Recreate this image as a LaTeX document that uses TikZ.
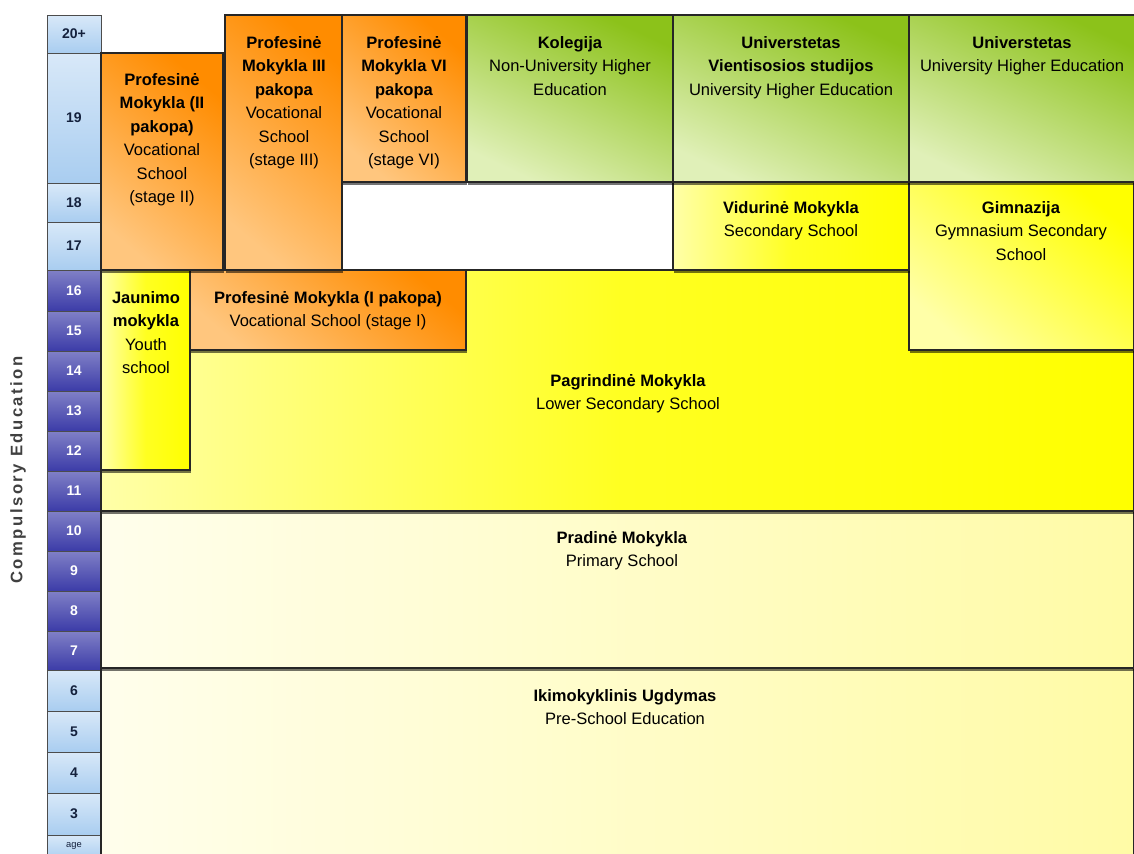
\documentclass[tikz,border=0pt]{standalone}
\usepackage{fontspec}
\setmainfont{Liberation Sans}
\usetikzlibrary{shadows}
\definecolor{orgdark}{HTML}{FF8C00}
\definecolor{orglight}{HTML}{FFC67E}
\definecolor{grndark}{HTML}{8CC21A}
\definecolor{grnlight}{HTML}{E0F0B8}
\definecolor{ylwdark}{HTML}{FFFF00}
\definecolor{ylwlight}{HTML}{FFFFA8}
\definecolor{palelight}{HTML}{FFFEEC}
\definecolor{paledark}{HTML}{FFFBA6}
\definecolor{bluelight}{HTML}{A9CDF0}
\definecolor{bluedark}{HTML}{3C3CA8}
\definecolor{agetxt}{HTML}{14213D}
\begin{document}
\begin{tikzpicture}[x=0.75pt,y=-0.75pt,
  box/.style={draw=black!85,line width=0.8pt,drop shadow={shadow xshift=1pt,shadow yshift=-2pt,opacity=0.55,fill=black}},
  orangebox/.style={box,top color=orgdark,bottom color=orglight,shading angle=-40},
  greenbox/.style={box,top color=grndark,bottom color=grnlight,shading angle=-25},
  yellowbox/.style={box,left color=ylwlight,right color=ylwdark,middle color=ylwdark!80!ylwlight},
  gymbox/.style={box,top color=ylwdark,bottom color=ylwlight,shading angle=-40},
  palebox/.style={box,left color=palelight,right color=paledark},
  agelight/.style={draw=black!70,line width=0.6pt,top color=bluelight!45!white,bottom color=bluelight},
  agedark/.style={draw=black!70,line width=0.6pt,top color=bluedark!65!white,bottom color=bluedark},
  agenum/.style={font=\fontsize{10.5}{12}\selectfont\bfseries,inner sep=0pt},
  lbl/.style={align=center,anchor=north,inner sep=0pt,font=\fontsize{12.4}{17.6}\selectfont},
]
\fill[white] (0,0) rectangle (1134,853);
\useasboundingbox (0,0) rectangle (1134,853);
\foreach \t/\a/\b/\s/\c [count=\i] in {20+/15/53/agelight/agetxt,19/53/183/agelight/agetxt,18/183/222/agelight/agetxt,17/222/270/agelight/agetxt,
  16/270/311/agedark/white,15/311/351/agedark/white,14/351/391/agedark/white,13/391/431/agedark/white,12/431/471/agedark/white,
  11/471/511/agedark/white,10/511/551/agedark/white,9/551/591/agedark/white,8/591/631/agedark/white,7/631/670/agedark/white,
  6/670/711/agelight/agetxt,5/711/752/agelight/agetxt,4/752/793/agelight/agetxt,3/793/835/agelight/agetxt} {
\path[\s] (47,\a) rectangle (101,\b);
\node[agenum,text=\c] (age\i) at (74,{(\a+\b)/2}) {\t};}
\path[agelight] (47,835) rectangle (101,860);
\node[font=\fontsize{7}{8}\selectfont,inner sep=0pt,text=agetxt] (agehead) at (74,846) {age};
\node[rotate=90,font=\fontsize{12.5}{14}\selectfont\bfseries\addfontfeatures{LetterSpace=15},text=black!75] (compulsory) at (18,470) {Compulsory Education};
\path[palebox] (101,668) rectangle (1134,858);
\path[palebox] (101,511) rectangle (1134,668);
\path[yellowbox] (101,270) rectangle (1134,511);
\path[yellowbox] (101,270) rectangle (190,470);
\path[orangebox] (190,270) rectangle (466,350);
\path[gymbox] (909,182) rectangle (1134,350);
\path[yellowbox] (673,182) rectangle (909,270);
\path[orangebox] (101,53) rectangle (223,270);
\path[orangebox] (225,15) rectangle (342,270);
\path[orangebox] (342,15) rectangle (466,182);
\path[greenbox] (467,15) rectangle (673,182);
\path[greenbox] (673,15) rectangle (909,182);
\path[greenbox] (909,15) rectangle (1136,182);
\node[lbl] (proftwo) at (162,73) {\textbf{Profesinė}\\\textbf{Mokykla (II}\\\textbf{pakopa)}\\Vocational\\School\\(stage II)};
\node[lbl] (profthree) at (284,36) {\textbf{Profesinė}\\\textbf{Mokykla III}\\\textbf{pakopa}\\Vocational\\School\\(stage III)};
\node[lbl] (profsix) at (404,36) {\textbf{Profesinė}\\\textbf{Mokykla VI}\\\textbf{pakopa}\\Vocational\\School\\(stage VI)};
\node[lbl] (kolegija) at (570,36) {\textbf{Kolegija}\\Non-University Higher\\Education};
\node[lbl] (vientis) at (791,36) {\textbf{Universtetas}\\\textbf{Vientisosios studijos}\\University Higher Education};
\node[lbl] (univ) at (1022,36) {\textbf{Universtetas}\\University Higher Education};
\node[lbl] (vidurine) at (791,201) {\textbf{Vidurinė Mokykla}\\Secondary School};
\node[lbl] (gimnazija) at (1021,201) {\textbf{Gimnazija}\\Gymnasium Secondary\\School};
\node[lbl] (jaunimo) at (146,291) {\textbf{Jaunimo}\\\textbf{mokykla}\\Youth\\school};
\node[lbl] (profone) at (328,291) {\textbf{Profesinė Mokykla (I pakopa)}\\Vocational School (stage I)};
\node[lbl] (pagrindine) at (628,374) {\textbf{Pagrindinė Mokykla}\\Lower Secondary School};
\node[lbl] (pradine) at (622,531) {\textbf{Pradinė Mokykla}\\Primary School};
\node[lbl] (ikimok) at (625,689) {\textbf{Ikimokyklinis Ugdymas}\\Pre-School Education};
\end{tikzpicture}
\end{document}
